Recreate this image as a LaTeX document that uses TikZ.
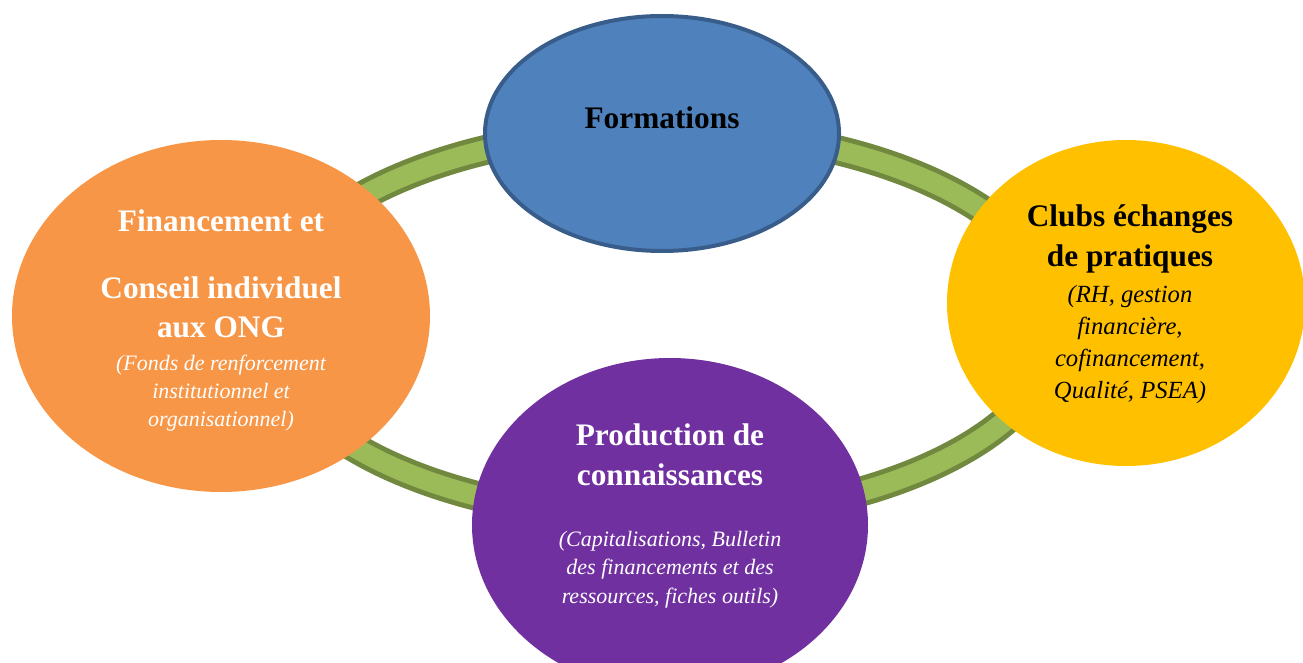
\documentclass[tikz,border=0pt]{standalone}
\usepackage{fontspec}
\setmainfont{Liberation Serif}
\usetikzlibrary{shapes.geometric}

\definecolor{ringdark}{RGB}{113,137,63}
\definecolor{ringlight}{RGB}{155,187,89}
\definecolor{formfill}{RGB}{79,129,189}
\definecolor{formline}{RGB}{56,93,138}
\definecolor{finfill}{RGB}{247,150,70}
\definecolor{clubfill}{RGB}{255,192,0}
\definecolor{prodfill}{RGB}{112,48,160}

\begin{document}
\begin{tikzpicture}[x=0.75pt,y=0.75pt,yscale=-1,xscale=1,
  bubble/.style={ellipse,inner sep=0pt,outer sep=0pt},
  title/.style={anchor=base,inner sep=0pt,font=\fontsize{23.5}{28}\selectfont\bfseries},
  note/.style={anchor=base,inner sep=0pt,font=\fontsize{16.5}{20}\selectfont\itshape},
  bignote/.style={note,font=\fontsize{18.5}{22}\selectfont\itshape}]
\useasboundingbox (0,0) rectangle (1303,663);
\clip (0,0) rectangle (1303,663);

%Ring [behind the four bubbles]
\draw [ringdark, line width=22.5pt] (661,324) ellipse (397 and 194);
\draw [ringlight, line width=15pt] (661,324) ellipse (397 and 194);

%Shape: Ellipse [Formations]
\node [bubble, fill=formfill, draw=formline, line width=3pt, minimum width=265.5pt, minimum height=176.25pt] (form) at (662,133.5) {};
%Shape: Ellipse [Financement]
\node [bubble, fill=finfill, minimum width=313.5pt, minimum height=264pt] (fin) at (221,316) {};
%Shape: Ellipse [Clubs]
\node [bubble, fill=clubfill, minimum width=268.5pt, minimum height=244.5pt] (club) at (1126,303) {};
%Shape: Ellipse [Production]
\node [bubble, fill=prodfill, minimum width=297pt, minimum height=250.5pt] (prod) at (670,525) {};

% Text Node
\node [title] (formA) at (662,129) {Formations};

% Text Node
\node [title, white] (finA) at (221,232) {Financement et};
\node [title, white] (finB) at (221,298) {Conseil individuel};
\node [title, white] (finC) at (221,337) {aux ONG};
\node [note, white] (finD) at (221,370) {(Fonds de renforcement};
\node [note, white] (finE) at (221,398) {institutionnel et};
\node [note, white] (finF) at (221,426) {organisationnel)};

% Text Node
\node [title] (clubA) at (1130,227) {Clubs échanges};
\node [title] (clubB) at (1130,267) {de pratiques};
\node [bignote] (clubC) at (1130,302) {(RH, gestion};
\node [bignote] (clubD) at (1130,334) {financière,};
\node [bignote] (clubE) at (1130,366) {cofinancement,};
\node [bignote] (clubF) at (1130,398) {Qualité, PSEA)};

% Text Node
\node [title, white] (prodA) at (670,445) {Production de};
\node [title, white] (prodB) at (670,485) {connaissances};
\node [note, white] (prodC) at (670,546) {(Capitalisations, Bulletin};
\node [note, white] (prodD) at (670,574) {des financements et des};
\node [note, white] (prodE) at (670,603) {ressources, fiches outils)};

\end{tikzpicture}
\end{document}
